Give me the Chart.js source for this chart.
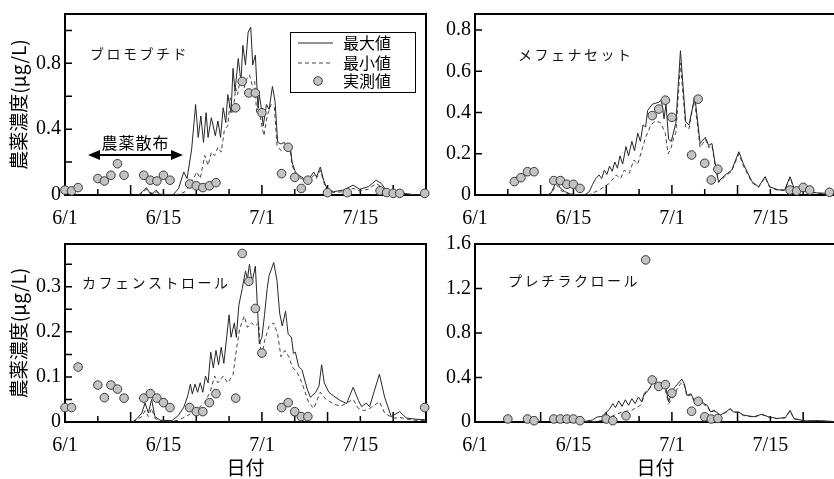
<!DOCTYPE html>
<html lang="ja">
<head>
<meta charset="utf-8">
<title>農薬濃度の推移</title>
<script src="https://cdn.jsdelivr.net/npm/chart.js@4.4.1/dist/chart.umd.min.js"></script>
<style>
  html, body { margin: 0; padding: 0; background: #fff; }
  body { width: 834px; height: 479px; overflow: hidden; position: relative; }
  canvas { position: absolute; }
</style>
</head>
<body>
<canvas id="c1" width="440" height="230" style="left:0;top:0"></canvas>
<canvas id="c2" width="430" height="230" style="left:420px;top:0"></canvas>
<canvas id="c3" width="440" height="249" style="left:0;top:230px"></canvas>
<canvas id="c4" width="430" height="249" style="left:420px;top:230px"></canvas>
<script>
// x = days since 6/1
const dateTicks = [0, 15, 30, 45];
const dateLabels = ['6/1', '6/15', '7/1', '7/15'];
const seriesNames = ['最大値', '最小値', '実測値'];

// ブロモブチド
const bromoMaxDays = [11.2, 11.8, 12.4, 12.9, 13.4, 13.9, 14.4, 15.2, 16.5, 17.3, 18.1, 18.6, 19.3, 19.9, 20.3, 20.7, 21.1, 21.5, 21.8, 22.3, 22.9, 23.3, 23.7, 24.1, 24.5, 24.8, 25.3, 25.6, 25.9, 26.4, 26.8, 27.1, 27.5, 27.9, 28.3, 28.6, 29.0, 29.4, 29.6, 29.9, 30.2, 30.7, 31.1, 31.6, 32.0, 32.4, 32.9, 33.4, 33.9, 34.3, 34.6, 35.1, 35.6, 36.4, 37.2, 37.9, 38.3, 38.9, 39.4, 39.9, 40.9, 42.4, 43.9, 44.9, 46.2, 47.4, 48.2, 48.9, 50.2, 51.5, 53.0, 55];
const bromoMax = [0, 0.02, 0.045, 0.015, 0.01, 0.03, 0.005, 0.002, 0.002, 0.04, 0.14, 0.10, 0.28, 0.55, 0.35, 0.48, 0.32, 0.50, 0.35, 0.47, 0.36, 0.45, 0.35, 0.53, 0.44, 0.61, 0.50, 0.77, 0.63, 0.83, 0.69, 0.91, 0.79, 0.99, 1.02, 0.79, 0.85, 0.53, 0.61, 0.53, 0.42, 0.55, 0.52, 0.66, 0.57, 0.32, 0.31, 0.32, 0.28, 0.30, 0.20, 0.14, 0.12, 0.10, 0.10, 0.14, 0.11, 0.17, 0.09, 0.04, 0.02, 0.03, 0.06, 0.035, 0.05, 0.09, 0.07, 0.03, 0.025, 0.01, 0.003, 0.002];
const bromoMinDays = [11.2, 11.8, 12.4, 12.9, 13.4, 13.9, 14.4, 15.2, 16.5, 17.5, 18.3, 19.3, 20.1, 20.6, 21.3, 21.8, 22.3, 22.8, 23.3, 23.8, 24.3, 24.8, 25.2, 25.6, 26.0, 26.3, 26.7, 27.3, 27.6, 28.1, 28.5, 28.9, 29.2, 29.5, 29.9, 30.3, 30.8, 31.4, 31.9, 32.3, 32.9, 33.4, 33.9, 34.3, 34.6, 35.1, 35.6, 36.4, 37.2, 37.9, 38.3, 38.9, 39.4, 39.9, 40.9, 42.4, 43.9, 44.9, 46.2, 47.4, 48.2, 48.9, 50.2, 51.5, 53.0, 55];
const bromoMin = [0, 0.015, 0.035, 0.01, 0.008, 0.02, 0.003, 0.001, 0.001, 0.005, 0.02, 0.08, 0.14, 0.10, 0.24, 0.18, 0.26, 0.24, 0.29, 0.26, 0.40, 0.42, 0.59, 0.50, 0.65, 0.61, 0.71, 0.65, 0.70, 0.73, 0.67, 0.69, 0.50, 0.54, 0.44, 0.36, 0.48, 0.55, 0.53, 0.30, 0.27, 0.29, 0.26, 0.28, 0.18, 0.13, 0.11, 0.09, 0.09, 0.12, 0.10, 0.15, 0.08, 0.03, 0.015, 0.02, 0.04, 0.025, 0.035, 0.07, 0.05, 0.02, 0.02, 0.008, 0.002, 0.001];
const bromoObsDays = [0, 1, 2, 5, 6, 7, 8, 9, 12, 13, 14, 15, 16, 19, 20, 21, 22, 23, 26, 27, 28, 29, 30, 33, 34, 35, 36, 37, 40, 43, 48, 49, 50, 51, 54.8];
const bromoObs = [0.03, 0.025, 0.045, 0.10, 0.085, 0.12, 0.19, 0.12, 0.12, 0.09, 0.085, 0.12, 0.09, 0.067, 0.056, 0.045, 0.056, 0.075, 0.53, 0.69, 0.62, 0.62, 0.50, 0.13, 0.29, 0.107, 0.04, 0.09, 0.014, 0.014, 0.026, 0.015, 0.01, 0.01, 0.01];

// メフェナセット
const mefeMaxDays = [11.0, 11.6, 12.4, 13.1, 13.8, 14.5, 15.5, 16.8, 17.4, 17.9, 18.4, 18.9, 19.3, 19.7, 20.1, 20.5, 20.9, 21.3, 21.7, 22.1, 22.5, 23.0, 23.4, 23.9, 24.3, 24.8, 25.2, 25.6, 26.0, 26.3, 27.0, 28.0, 28.4, 28.8, 29.1, 29.5, 29.9, 30.3, 30.6, 31.3, 32.1, 32.6, 33.5, 34.3, 35.1, 35.6, 36.1, 36.5, 37.1, 38.1, 39.1, 40.2, 40.9, 42.2, 43.2, 44.2, 44.9, 46.2, 47.2, 48.0, 48.7, 50.2, 52.2, 54.2, 55];
const mefeMax = [0, 0.01, 0.065, 0.03, 0.015, 0.005, 0.002, 0.002, 0.016, 0.05, 0.08, 0.097, 0.08, 0.12, 0.10, 0.14, 0.115, 0.16, 0.13, 0.19, 0.15, 0.235, 0.19, 0.26, 0.215, 0.30, 0.26, 0.34, 0.33, 0.41, 0.44, 0.45, 0.46, 0.37, 0.44, 0.27, 0.26, 0.31, 0.35, 0.70, 0.355, 0.34, 0.476, 0.25, 0.28, 0.24, 0.25, 0.17, 0.065, 0.097, 0.12, 0.21, 0.15, 0.065, 0.04, 0.089, 0.04, 0.025, 0.025, 0.089, 0.024, 0.02, 0.01, 0.008, 0.007];
const mefeMinDays = [11.0, 11.6, 12.4, 13.1, 13.8, 14.5, 15.5, 17.4, 18.9, 19.7, 20.5, 21.5, 22.2, 22.7, 23.5, 24.2, 24.8, 25.5, 26.0, 26.8, 27.5, 28.3, 29.0, 29.4, 29.8, 30.3, 30.6, 31.3, 32.1, 32.6, 33.4, 34.3, 35.1, 35.6, 36.1, 36.5, 37.1, 38.1, 39.1, 40.2, 40.9, 42.2, 43.2, 44.2, 44.9, 46.2, 47.2, 48.0, 48.7, 50.2, 52.2, 54.2, 55];
const mefeMin = [0, 0.008, 0.05, 0.022, 0.01, 0.003, 0.001, 0.001, 0.024, 0.04, 0.057, 0.097, 0.08, 0.12, 0.105, 0.17, 0.15, 0.226, 0.28, 0.34, 0.36, 0.35, 0.30, 0.20, 0.22, 0.28, 0.30, 0.64, 0.33, 0.32, 0.47, 0.23, 0.27, 0.23, 0.24, 0.16, 0.06, 0.09, 0.115, 0.2, 0.14, 0.06, 0.037, 0.085, 0.037, 0.022, 0.022, 0.085, 0.02, 0.018, 0.008, 0.006, 0.005];
const mefeObsDays = [6, 7, 8, 9, 12, 13, 14, 15, 16, 27, 28, 29, 30, 33, 34, 35, 36, 37, 48, 49, 50, 51, 54];
const mefeObs = [0.065, 0.084, 0.113, 0.113, 0.07, 0.07, 0.052, 0.052, 0.032, 0.385, 0.417, 0.46, 0.377, 0.194, 0.465, 0.154, 0.073, 0.125, 0.024, 0.02, 0.037, 0.024, 0.013];

// カフェンストロール
const cafenMaxDays = [10.3, 11.0, 11.7, 12.2, 12.7, 13.2, 13.7, 14.5, 16.3, 17.3, 18.1, 18.7, 19.1, 19.4, 19.8, 20.2, 20.6, 21.0, 21.4, 21.8, 22.2, 22.6, 23.0, 23.4, 23.8, 24.2, 25.0, 25.3, 25.8, 26.1, 26.5, 27.0, 27.5, 27.8, 28.1, 28.5, 29.0, 29.3, 29.6, 30.0, 30.4, 30.8, 31.1, 31.8, 32.3, 32.7, 33.1, 33.6, 34.0, 34.5, 34.8, 35.1, 35.6, 36.1, 36.9, 37.4, 38.2, 38.7, 39.1, 39.5, 40.2, 40.9, 41.9, 42.9, 43.9, 44.7, 45.2, 45.9, 46.4, 47.9, 48.7, 49.7, 51.0, 52.0, 53.5, 55];
const cafenMax = [0, 0.008, 0.02, 0.042, 0.02, 0.05, 0.012, 0.004, 0.003, 0.015, 0.033, 0.058, 0.084, 0.062, 0.084, 0.066, 0.087, 0.066, 0.102, 0.087, 0.155, 0.12, 0.159, 0.127, 0.166, 0.13, 0.238, 0.188, 0.22, 0.188, 0.26, 0.296, 0.335, 0.318, 0.35, 0.31, 0.346, 0.26, 0.174, 0.188, 0.238, 0.296, 0.325, 0.354, 0.314, 0.242, 0.213, 0.246, 0.195, 0.188, 0.152, 0.155, 0.123, 0.116, 0.073, 0.055, 0.066, 0.08, 0.127, 0.087, 0.066, 0.058, 0.048, 0.041, 0.077, 0.048, 0.034, 0.042, 0.034, 0.106, 0.055, 0.012, 0.023, 0.009, 0.006, 0.005];
const cafenMinDays = [10.3, 11.0, 11.7, 12.2, 12.7, 13.2, 13.7, 14.5, 16.3, 17.3, 18.8, 20.3, 21.3, 22.1, 22.8, 23.3, 24.1, 24.8, 25.6, 26.1, 26.6, 27.3, 27.8, 28.4, 29.0, 29.5, 29.9, 30.4, 31.1, 31.8, 32.4, 32.9, 33.5, 34.1, 34.6, 35.4, 36.1, 37.1, 37.9, 38.9, 39.7, 40.9, 42.0, 43.9, 44.7, 45.5, 46.4, 47.9, 48.7, 50.0, 51.0, 53.0, 55];
const cafenMin = [0, 0.005, 0.012, 0.025, 0.012, 0.03, 0.008, 0.003, 0.002, 0.004, 0.015, 0.03, 0.044, 0.066, 0.102, 0.087, 0.102, 0.087, 0.105, 0.159, 0.206, 0.235, 0.21, 0.22, 0.213, 0.22, 0.14, 0.18, 0.213, 0.22, 0.195, 0.145, 0.159, 0.145, 0.123, 0.109, 0.087, 0.044, 0.03, 0.066, 0.051, 0.04, 0.035, 0.05, 0.03, 0.025, 0.03, 0.045, 0.02, 0.008, 0.01, 0.004, 0.003];
const cafenObsDays = [0, 1, 2, 5, 6, 7, 8, 9, 12, 13, 14, 15, 16, 19, 20, 21, 22, 23, 26, 27, 28, 29, 30, 33, 34, 35, 36, 37, 54.8];
const cafenObs = [0.032, 0.032, 0.122, 0.082, 0.054, 0.082, 0.073, 0.053, 0.053, 0.063, 0.053, 0.043, 0.032, 0.032, 0.023, 0.023, 0.043, 0.063, 0.053, 0.374, 0.312, 0.252, 0.153, 0.032, 0.043, 0.023, 0.012, 0.012, 0.032];

// プレチラクロール
const pretiMaxDays = [11.5, 12.3, 12.8, 13.5, 14.0, 14.6, 16.5, 17.9, 18.6, 19.3, 19.9, 20.4, 20.7, 21.0, 21.4, 21.9, 22.4, 22.9, 23.4, 23.9, 24.4, 24.9, 25.4, 25.8, 26.4, 27.1, 27.9, 28.6, 29.1, 29.5, 29.9, 30.4, 30.9, 31.5, 31.9, 32.3, 32.9, 33.4, 34.2, 34.9, 35.4, 35.9, 36.4, 37.4, 38.2, 38.9, 39.4, 40.2, 40.9, 42.5, 43.7, 44.7, 46.0, 47.3, 48.0, 48.6, 50.3, 52.3, 55];
const pretiMax = [0, 0.02, 0.01, 0.03, 0.01, 0.005, 0.003, 0.018, 0.045, 0.05, 0.08, 0.11, 0.135, 0.165, 0.13, 0.19, 0.14, 0.2, 0.15, 0.21, 0.165, 0.225, 0.18, 0.26, 0.283, 0.357, 0.342, 0.357, 0.3, 0.18, 0.254, 0.313, 0.342, 0.386, 0.342, 0.239, 0.254, 0.195, 0.21, 0.165, 0.15, 0.09, 0.106, 0.062, 0.09, 0.12, 0.09, 0.09, 0.062, 0.047, 0.07, 0.047, 0.032, 0.04, 0.106, 0.03, 0.01, 0.012, 0.003];
const pretiMinDays = [11.5, 12.3, 12.8, 13.5, 14.0, 14.6, 16.5, 17.9, 19.95, 21.2, 22.4, 23.9, 25.2, 25.9, 26.7, 27.9, 28.9, 29.5, 30.2, 30.9, 31.5, 31.9, 32.3, 32.9, 33.4, 34.2, 34.9, 35.4, 35.9, 36.4, 37.4, 38.2, 38.9, 39.4, 40.2, 40.9, 42.5, 43.7, 44.7, 46.0, 47.3, 48.0, 48.6, 50.3, 52.3, 55];
const pretiMin = [0, 0.015, 0.008, 0.02, 0.008, 0.003, 0.002, 0.003, 0.018, 0.062, 0.09, 0.106, 0.15, 0.25, 0.31, 0.34, 0.31, 0.165, 0.224, 0.31, 0.357, 0.33, 0.23, 0.245, 0.185, 0.2, 0.155, 0.14, 0.085, 0.1, 0.058, 0.085, 0.115, 0.085, 0.085, 0.058, 0.044, 0.066, 0.044, 0.03, 0.038, 0.1, 0.028, 0.009, 0.011, 0.003];
const pretiObsDays = [5, 8, 9, 12, 13, 14, 15, 16, 20, 21, 23, 26, 27, 28, 29, 30, 33, 34, 35, 36, 37];
const pretiObs = [0.027, 0.027, 0.012, 0.027, 0.027, 0.027, 0.027, 0.012, 0.027, 0.012, 0.056, 1.457, 0.378, 0.32, 0.336, 0.26, 0.097, 0.186, 0.047, 0.027, 0.032];

const serif = 'Liberation Serif';
const jp = 'Noto Sans CJK JP';

function pts(days, vals) {
  return days.map((d, i) => ({ x: d, y: vals[i] }));
}

function onStep(v, step) {
  const r = v / step;
  return Math.abs(r - Math.round(r)) < 1e-6;
}

// ticks every `step` from 0 up to max (max itself only when it is on a step)
function stepTicks(max, step) {
  const out = [];
  for (let i = 0; i * step <= max + 1e-9; i++) out.push({ value: +(i * step).toFixed(4) });
  return out;
}

// frame and inward tick marks
const frame = {
  id: 'frame',
  beforeDatasetsDraw(chart) {
    const { ctx, chartArea: a, scales: { x, y } } = chart;
    ctx.save();
    ctx.strokeStyle = '#000';
    ctx.lineWidth = 2;
    ctx.strokeRect(a.left, a.top, a.right - a.left, a.bottom - a.top);
    ctx.lineWidth = 1.5;
    ctx.beginPath();
    y.ticks.forEach(t => {
      const py = y.getPixelForValue(t.value);
      if (py <= a.top + 2 || py >= a.bottom - 2) return;
      ctx.moveTo(a.left, py);
      ctx.lineTo(a.left + 7, py);
    });
    x.ticks.forEach(t => {
      const px = x.getPixelForValue(t.value);
      if (px <= a.left + 2 || px >= a.right - 2) return;
      const len = onStep(t.value, 10) ? 10 : 6;
      ctx.moveTo(px, a.bottom);
      ctx.lineTo(px, a.bottom - len);
    });
    ctx.stroke();
    ctx.restore();
  }
};

const boxLegend = {
  id: 'boxLegend',
  afterDraw(chart, args, o) {
    if (!o.show) return;
    const { ctx } = chart;
    ctx.save();
    ctx.fillStyle = '#fff';
    ctx.fillRect(o.x, o.y, o.w, o.h);
    ctx.strokeStyle = '#000';
    ctx.lineWidth = 1;
    ctx.strokeRect(o.x + 0.5, o.y + 0.5, o.w, o.h);
    ctx.font = '16px "' + jp + '"';
    ctx.textBaseline = 'middle';
    chart.data.datasets.forEach((d, i) => {
      const cy = o.y + o.rows[i];
      if (d.showLine) {
        ctx.strokeStyle = d.borderColor;
        ctx.lineWidth = d.borderWidth;
        ctx.setLineDash(d.borderDash || []);
        ctx.beginPath();
        ctx.moveTo(o.x + 8, cy);
        ctx.lineTo(o.x + 43, cy);
        ctx.stroke();
        ctx.setLineDash([]);
      } else {
        ctx.beginPath();
        ctx.arc(o.x + 28, cy, d.pointRadius, 0, Math.PI * 2);
        ctx.fillStyle = d.pointBackgroundColor;
        ctx.fill();
        ctx.strokeStyle = d.pointBorderColor;
        ctx.lineWidth = d.pointBorderWidth;
        ctx.stroke();
      }
      ctx.fillStyle = '#000';
      ctx.fillText(d.label, o.x + 53, cy);
    });
    ctx.restore();
  }
};

const panelText = {
  id: 'panelText',
  afterDraw(chart, args, o) {
    const { ctx } = chart;
    ctx.save();
    ctx.fillStyle = '#111';
    ctx.textBaseline = 'middle';
    ctx.font = '14px "' + jp + '"';
    ctx.letterSpacing = '2.5px';
    ctx.fillText(o.name, o.x, o.y);
    if (o.arrow) {
      const { x1, x2, y, label, ly } = o.arrow;
      ctx.letterSpacing = '1px';
      ctx.font = '16px "' + jp + '"';
      ctx.textAlign = 'center';
      ctx.fillStyle = '#000';
      ctx.fillText(label, (x1 + x2) / 2, ly);
      ctx.strokeStyle = '#000';
      ctx.lineWidth = 2;
      ctx.beginPath();
      ctx.moveTo(x1 + 8, y);
      ctx.lineTo(x2 - 8, y);
      ctx.stroke();
      ctx.beginPath();
      ctx.moveTo(x1, y); ctx.lineTo(x1 + 12, y - 5); ctx.lineTo(x1 + 12, y + 5); ctx.closePath();
      ctx.moveTo(x2, y); ctx.lineTo(x2 - 12, y - 5); ctx.lineTo(x2 - 12, y + 5); ctx.closePath();
      ctx.fill();
    }
    ctx.restore();
  }
};

function datasets(maxD, maxV, minD, minV, obsD, obsV) {
  return [
    { label: seriesNames[0], data: pts(maxD, maxV), showLine: true, borderColor: '#262626', borderWidth: 1, pointRadius: 0, order: 1 },
    { label: seriesNames[1], data: pts(minD, minV), showLine: true, borderColor: '#444', borderWidth: 1, borderDash: [4, 3], pointRadius: 0, order: 2 },
    { label: seriesNames[2], data: pts(obsD, obsV), showLine: false, pointRadius: 4.3, pointBackgroundColor: '#c3c3c3', pointBorderColor: '#3a3a3a', pointBorderWidth: 1, clip: false, order: 0 }
  ];
}

function makeChart(id, sets, o) {
  new Chart(document.getElementById(id), {
    type: 'scatter',
    data: { datasets: sets },
    plugins: [frame, boxLegend, panelText],
    options: {
      responsive: false,
      animation: false,
      events: [],
      layout: { padding: { top: o.top, right: o.right, left: 0, bottom: 0 } },
      scales: {
        x: {
          type: 'linear', min: 0, max: 55,
          afterFit: s => { s.height = o.xHeight; },
          afterBuildTicks: s => { s.ticks = stepTicks(55, 5); },
          grid: { display: false, drawTicks: false },
          border: { display: false },
          ticks: {
            stepSize: 5, autoSkip: false, maxRotation: 0, padding: 14, color: '#000',
            font: { family: serif, size: 20, lineHeight: 1 },
            callback: v => { const i = dateTicks.indexOf(v); return i < 0 ? '' : dateLabels[i]; }
          },
          title: {
            display: !!o.xTitle, text: o.xTitle || '', color: '#000',
            font: { family: jp, size: 19 }, padding: { top: 0, bottom: 0 }
          }
        },
        y: {
          min: 0, max: o.yMax,
          afterFit: s => { s.width = o.yWidth; },
          afterBuildTicks: s => { s.ticks = stepTicks(o.yMax, o.yStep); },
          grid: { display: false, drawTicks: false },
          border: { display: false },
          ticks: {
            stepSize: o.yStep, padding: 4, color: '#000',
            font: { family: serif, size: 20, lineHeight: 1 },
            callback: v => onStep(v, o.yLabelStep) ? String(+v.toFixed(2)) : ''
          },
          title: {
            display: !!o.yTitle, text: o.yTitle || '', color: '#000',
            font: { family: jp, size: 19 }, padding: { top: 7, bottom: 0 }
          }
        }
      },
      plugins: {
        legend: { display: false },
        tooltip: { enabled: false },
        boxLegend: o.legend || { show: false },
        panelText: o.text
      }
    }
  });
}

const yTitle = '農薬濃度(μg/L)';

makeChart('c1', datasets(bromoMaxDays, bromoMax, bromoMinDays, bromoMin, bromoObsDays, bromoObs), {
  top: 13, right: 10, xHeight: 35, yWidth: 65, yMax: 1.1, yStep: 0.1, yLabelStep: 0.4, yTitle,
  legend: { show: true, x: 290, y: 32, w: 125, h: 60, rows: [11, 31, 49] },
  text: { name: 'ブロモブチド', x: 90, y: 54, arrow: { x1: 88, x2: 183, y: 155, label: '農薬散布', ly: 143 } }
});

makeChart('c2', datasets(mefeMaxDays, mefeMax, mefeMinDays, mefeMin, mefeObsDays, mefeObs), {
  top: 14, right: 12, xHeight: 35, yWidth: 55, yMax: 0.878, yStep: 0.1, yLabelStep: 0.2,
  text: { name: 'メフェナセット', x: 98, y: 55 }
});

makeChart('c3', datasets(cafenMaxDays, cafenMax, cafenMinDays, cafenMin, cafenObsDays, cafenObs), {
  top: 9, right: 10, xHeight: 57, yWidth: 65, yMax: 0.395, yStep: 0.05, yLabelStep: 0.1, yTitle, xTitle: '日付',
  text: { name: 'カフェンストロール', x: 82, y: 53 }
});

makeChart('c4', datasets(pretiMaxDays, pretiMax, pretiMinDays, pretiMin, pretiObsDays, pretiObs), {
  top: 11, right: 12, xHeight: 57, yWidth: 55, yMax: 1.6, yStep: 0.2, yLabelStep: 0.4, xTitle: '日付',
  text: { name: 'プレチラクロール', x: 88, y: 51 }
});
</script>
</body>
</html>
